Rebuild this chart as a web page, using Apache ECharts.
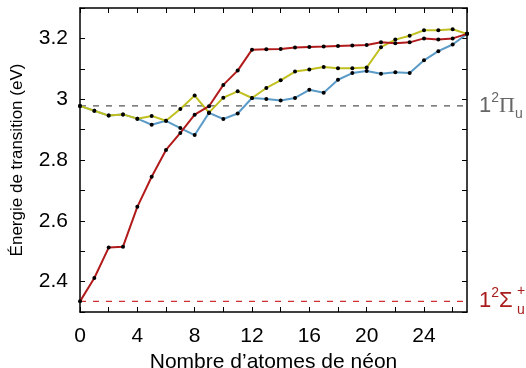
<!DOCTYPE html>
<html><head><meta charset="utf-8">
<script src="https://cdn.jsdelivr.net/npm/echarts@6/dist/echarts.min.js"></script>
<style>html,body{margin:0;padding:0;background:#fff}#c{width:526px;height:368px}</style>
</head><body><div id="c"></div>
<script>
const nAtoms = [0,1,2,3,4,5,6,7,8,9,10,11,12,13,14,15,16,17,18,19,20,21,22,23,24,25,26,27];
const redSeries = [2.335,2.412,2.512,2.515,2.646,2.745,2.833,2.889,2.949,2.977,3.047,3.094,3.163,3.164,3.165,3.170,3.172,3.173,3.175,3.177,3.178,3.187,3.184,3.187,3.200,3.196,3.200,3.215];
const yellowSeries = [2.978,2.962,2.946,2.950,2.936,2.945,2.929,2.968,3.012,2.956,3.005,3.026,3.004,3.037,3.062,3.091,3.098,3.106,3.102,3.102,3.104,3.171,3.196,3.209,3.227,3.227,3.230,3.215];
const blueSeries = [2.978,2.962,2.946,2.950,2.936,2.916,2.929,2.905,2.882,2.955,2.935,2.953,3.004,3.001,2.996,3.004,3.031,3.021,3.064,3.086,3.093,3.084,3.089,3.086,3.128,3.158,3.180,3.215];
const piLevel = 2.978;
const sigmaLevel = 2.335;
const xTickLabels = ['0','4','8','12','16','20','24'];
const yTickLabels = ['2.4','2.6','2.8','3','3.2'];

const FONT = 'Liberation Sans, Arial, sans-serif';
const chart = echarts.init(document.getElementById('c'), null, {renderer:'canvas'});
function pairs(arr){ return nAtoms.map((x,i)=>[x,arr[i]]); }
function levelLine(v){ return [[nAtoms[0], v], [nAtoms[nAtoms.length-1], v]]; }
function fmtY(v){ const s = String(Math.round(v*10)/10); return yTickLabels.indexOf(s) >= 0 ? s : ''; }
function fmtX(v){ const s = String(v); return xTickLabels.indexOf(s) >= 0 ? s : ''; }
function axLine(){ return {show:true, onZero:false, lineStyle:{color:'#000', width:1.5}}; }
function tk(){ return {show:true, inside:true, length:5, lineStyle:{color:'#000', width:1}}; }
const lineSeries = (name, data, color, z) => ({
  name, type:'line', data: pairs(data), z,
  lineStyle:{color, width:2}, itemStyle:{color:'#000'},
  symbol:'circle', symbolSize:4, showSymbol:true, animation:false
});
const dashSeries = (name, v, color) => ({
  name, type:'line', data: levelLine(v), z:1, symbol:'none', silent:true, animation:false,
  lineStyle:{color, width:1.3, type:[6,7]}
});
chart.setOption({
  animation:false,
  grid:{left:80, right:59, top:8, bottom:56, outerBoundsMode:'none', containLabel:false},
  xAxis:[
    {type:'value', min:0, max:27, interval:2, position:'bottom',
     axisLine:axLine(), axisTick:tk(), splitLine:{show:false},
     axisLabel:{formatter:fmtX, color:'#000', fontSize:21, fontFamily:FONT, margin:14, showMaxLabel:false},
     name:'Nombre d\u2019atomes de néon', nameLocation:'middle', nameGap:36,
     nameTextStyle:{color:'#000', fontSize:21, fontFamily:FONT}},
    {type:'value', min:0, max:27, interval:2, position:'top',
     axisLine:axLine(), axisTick:tk(), splitLine:{show:false}, axisLabel:{show:false}}
  ],
  yAxis:[
    {type:'value', min:2.3, max:3.3, interval:0.1, position:'left',
     axisLine:axLine(), axisTick:tk(), splitLine:{show:false},
     axisLabel:{formatter:fmtY, color:'#000', fontSize:21, fontFamily:FONT, margin:12},
     name:'Énergie de transition (eV)', nameLocation:'middle', nameGap:54, nameRotate:90,
     nameTextStyle:{color:'#000', fontSize:17, fontFamily:FONT}},
    {type:'value', min:2.3, max:3.3, interval:0.1, position:'right',
     axisLine:axLine(), axisTick:tk(), splitLine:{show:false}, axisLabel:{show:false}}
  ],
  series:[
    dashSeries('pi', piLevel, '#555'),
    dashSeries('sigma', sigmaLevel, '#d0302f'),
    lineSeries('blue', blueSeries, '#5b9bc8', 2),
    lineSeries('yellow', yellowSeries, '#c0c020', 3),
    lineSeries('red', redSeries, '#b21b1b', 4)
  ]
});

const pPi = chart.convertToPixel({gridIndex:0}, [27, piLevel]);
const pSig = chart.convertToPixel({gridIndex:0}, [27, sigmaLevel]);
const big = 22, small = 14;
chart.setOption({
  graphic:[
    {type:'text', x:pPi[0]+12, y:pPi[1], style:{
      text:'{a|1}{s|2}{p|\u03A0}{b|u}', fill:'#666', verticalAlign:'middle',
      rich:{
        a:{fontSize:big, fontFamily:FONT, lineHeight:30, verticalAlign:'middle', fill:'#666'},
        s:{fontSize:small, fontFamily:FONT, lineHeight:30, verticalAlign:'top', fill:'#666'},
        p:{fontSize:big, fontFamily:'Liberation Serif, Times New Roman, serif', lineHeight:30, verticalAlign:'middle', fill:'#666'},
        b:{fontSize:small, fontFamily:FONT, lineHeight:30, verticalAlign:'bottom', fill:'#666'}
      }}},
    {type:'text', x:pSig[0]+12, y:pSig[1], style:{
      text:'{a|1}{s|2}{a|\u03A3}', fill:'#a81c1c', verticalAlign:'middle',
      rich:{
        a:{fontSize:big, fontFamily:FONT, lineHeight:30, verticalAlign:'middle', fill:'#a81c1c'},
        s:{fontSize:small, fontFamily:FONT, lineHeight:30, verticalAlign:'top', fill:'#a81c1c'}
      }}},
    {type:'text', x:pSig[0]+50, y:pSig[1]-10, style:{text:'+', fontSize:small, fontFamily:FONT, fill:'#a81c1c', verticalAlign:'middle'}},
    {type:'text', x:pSig[0]+50, y:pSig[1]+9, style:{text:'u', fontSize:small, fontFamily:FONT, fill:'#a81c1c', verticalAlign:'middle'}}
  ]
});
</script></body></html>
